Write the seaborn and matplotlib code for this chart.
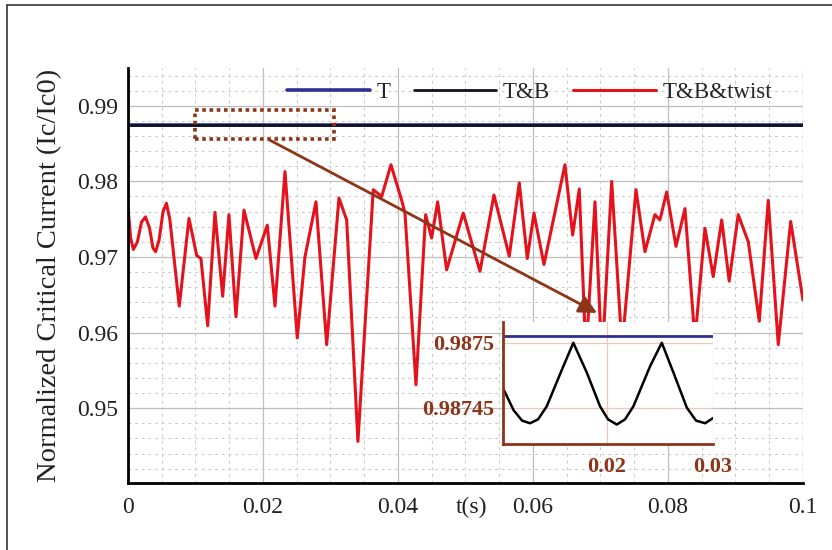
import matplotlib
matplotlib.use('Agg')
import matplotlib.pyplot as plt
from matplotlib.patches import Rectangle
from matplotlib.lines import Line2D
from matplotlib.ticker import MultipleLocator
import pandas as pd
import seaborn as sns

# ---- data ----
t_twist = [0.0, 0.0004, 0.0008, 0.0014, 0.002, 0.0026, 0.0032, 0.0037, 0.0041, 0.0046,
           0.0052, 0.0057, 0.0062, 0.0076, 0.00904, 0.01018, 0.01081,
           0.01181, 0.01289, 0.01403, 0.01496, 0.016, 0.01719, 0.01896, 0.02064, 0.02178,
           0.02326, 0.02508, 0.02622, 0.02785, 0.02944, 0.03126, 0.0324, 0.03407, 0.03634,
           0.03759, 0.03896, 0.04055, 0.04104, 0.04267, 0.0441, 0.04499, 0.04588, 0.04721,
           0.04967, 0.05215, 0.05422, 0.05649, 0.05797, 0.05916, 0.06015, 0.06163, 0.06474,
           0.06588, 0.06686, 0.06785, 0.06919, 0.07022, 0.07166, 0.07319, 0.07526, 0.07659,
           0.07807, 0.07881, 0.07981, 0.08119, 0.08252, 0.084, 0.08548, 0.08671, 0.08796,
           0.08907, 0.09041, 0.0919, 0.09353, 0.09486, 0.09634, 0.09818, 0.1]
ic_twist = [0.9766, 0.9725, 0.9710, 0.9720, 0.9746, 0.9753, 0.9738, 0.9712, 0.9707, 0.9722,
            0.9760, 0.9771, 0.9750, 0.9635, 0.9751, 0.9702, 0.9698,
            0.9609, 0.9759, 0.9648, 0.9756, 0.9621, 0.9762, 0.9698, 0.9742, 0.9635,
            0.9813, 0.9593, 0.9700, 0.9773, 0.9584, 0.9778, 0.9749, 0.9456, 0.9789,
            0.9780, 0.9822, 0.9775, 0.9758, 0.9531, 0.9756, 0.9725, 0.9773, 0.9683,
            0.9758, 0.9681, 0.9782, 0.9701, 0.9798, 0.9698, 0.9758, 0.9690, 0.9822,
            0.9729, 0.9790, 0.9570, 0.9773, 0.9560, 0.9800, 0.9580, 0.9789, 0.9707,
            0.9756, 0.9749, 0.9786, 0.9714, 0.9764, 0.9590, 0.9738, 0.9674, 0.9749,
            0.9668, 0.9756, 0.9720, 0.9615, 0.9775, 0.9584, 0.9747, 0.9643]

t_flat = [0.0, 0.1]
ic_T = [0.98751, 0.98751]
ic_TB = [0.98747, 0.98747]

# zoomed window (inset)
t_zoom = [0.0102, 0.0112, 0.0120, 0.01275, 0.0135, 0.01432, 0.01589, 0.01683, 0.0181,
          0.01935, 0.0201, 0.02093, 0.0217, 0.02249, 0.02407, 0.02517, 0.02627, 0.02753,
          0.0284, 0.02926, 0.0300]
ic_zoom_TB = [0.987465, 0.987448, 0.987440, 0.987438, 0.987441, 0.987451, 0.987482,
              0.987500, 0.987477, 0.987451, 0.987441, 0.987437, 0.987441, 0.987451,
              0.987482, 0.987500, 0.987477, 0.987450, 0.987440, 0.987438, 0.987442]
t_zoom_T = [0.0102, 0.0300]
ic_zoom_T = [0.987505, 0.987505]

x_ticks = [0.0, 0.02, 0.04, 0.06, 0.08, 0.1]
x_ticklabels = ['0', '0.02', '0.04', '0.06', '0.08', '0.1']
y_ticks = [0.95, 0.96, 0.97, 0.98, 0.99]
y_ticklabels = ['0.95', '0.96', '0.97', '0.98', '0.99']
zoom_x_ticks = [0.02, 0.03]
zoom_x_labels = ['0.02', '0.03']
zoom_y_ticks = [0.98745, 0.9875]
zoom_y_labels = ['0.98745', '0.9875']

RED = '#E5121B'
BLUE = '#2E3192'
BROWN = '#8E3418'

sns.set_theme(style='white')
plt.rcParams['font.family'] = ['Liberation Serif', 'DejaVu Serif']

fig = plt.figure(figsize=(8.32, 5.5), dpi=100)
fig.patch.set_facecolor('white')
ax = fig.add_axes([0.1538, 0.1218, 0.8113, 0.7546])

df_twist = pd.DataFrame({'t': t_twist, 'Ic': ic_twist})
df_T = pd.DataFrame({'t': t_flat, 'Ic': ic_T})
df_TB = pd.DataFrame({'t': t_flat, 'Ic': ic_TB})

sns.lineplot(data=df_T, x='t', y='Ic', ax=ax, color=BLUE, lw=2.6, label='T',
             sort=False, estimator=None)
sns.lineplot(data=df_TB, x='t', y='Ic', ax=ax, color='#111122', lw=2.0, label='T&B',
             sort=False, estimator=None)
sns.lineplot(data=df_twist, x='t', y='Ic', ax=ax, color=RED, lw=2.2, label='T&B&twist',
             sort=False, estimator=None, solid_joinstyle='round')

ax.set_xlim(0, 0.1)
ax.set_ylim(0.9401, 0.995)
ax.set_xticks(x_ticks)
ax.set_xticklabels(x_ticklabels)
ax.set_yticks(y_ticks)
ax.set_yticklabels(y_ticklabels)
ax.xaxis.set_minor_locator(MultipleLocator(0.005))
ax.yaxis.set_minor_locator(MultipleLocator(0.002))
ax.grid(which='major', color='#BEBEBE', lw=0.9)
ax.grid(which='minor', color='#CACACA', lw=0.8, ls=(0, (2.5, 3.5)))
ax.set_axisbelow(True)
ax.tick_params(which='major', direction='in', length=5, width=1.5, color='black',
               labelsize=17, labelcolor='#222222')
ax.tick_params(axis='x', pad=10)
ax.tick_params(axis='y', pad=7)
ax.tick_params(which='minor', length=0)
for s in ['top', 'right']:
    ax.spines[s].set_visible(False)
for s in ['left', 'bottom']:
    ax.spines[s].set_color('black')
    ax.spines[s].set_linewidth(2)
ax.set_xlabel('')
ax.set_ylabel('Normalized Critical Current (Ic/Ic0)', fontsize=20.5, color='#222222',
              labelpad=11)

ax.legend(loc='center right', bbox_to_anchor=(0.985, 0.94), ncol=3, frameon=False,
          handlelength=3.6, handletextpad=0.3, columnspacing=1.0, fontsize=16.5)

# dotted zoom box + arrow
ax.add_patch(Rectangle((0.0100, 0.98565), 0.0205, 0.00378, fill=False, ec=BROWN,
                       lw=2.6, ls=(0, (1, 1)), zorder=5))
ax.annotate('', xy=(0.0695, 0.9626), xytext=(0.0210, 0.98546),
            arrowprops=dict(arrowstyle='-|>,head_length=0.9,head_width=0.45',
                            color=BROWN, lw=2, shrinkA=0, shrinkB=0), zorder=6)

fig.text(472 / 832, 1 - 507 / 550, 't(s)', ha='center', va='center', fontsize=17,
         color='#222222')

# inset
ins = fig.add_axes([0.6046, 0.1927, 0.2524, 0.2218])
ins.set_zorder(3)
ins.set_facecolor('white')
df_zT = pd.DataFrame({'t': t_zoom_T, 'Ic': ic_zoom_T})
df_zTB = pd.DataFrame({'t': t_zoom, 'Ic': ic_zoom_TB})
sns.lineplot(data=df_zT, x='t', y='Ic', ax=ins, color=BLUE, lw=2.0, sort=False,
             estimator=None)
sns.lineplot(data=df_zTB, x='t', y='Ic', ax=ins, color='black', lw=1.8, sort=False,
             estimator=None, solid_joinstyle='round')
ins.set_xlim(0.0102, 0.0300)
ins.set_ylim(0.987422, 0.987516)
ins.set_xticks(zoom_x_ticks)
ins.set_xticklabels(zoom_x_labels, fontweight='bold')
ins.set_yticks(zoom_y_ticks)
ins.set_yticklabels(zoom_y_labels, fontweight='bold')
ins.grid(True, color='#F2C6B4', lw=0.9)
ins.tick_params(direction='in', length=4, width=1.2, color=BROWN, labelcolor=BROWN,
                labelsize=16)
ins.tick_params(axis='x', pad=9)
ins.tick_params(axis='y', pad=6)
for s in ['top', 'right']:
    ins.spines[s].set_visible(False)
for s in ['left', 'bottom']:
    ins.spines[s].set_color(BROWN)
    ins.spines[s].set_linewidth(2)
ins.set_xlabel('')
ins.set_ylabel('')

# outer frame of the figure
fig.add_artist(Line2D([7 / 832, 7 / 832], [0, 1 - 5 / 550], transform=fig.transFigure,
                      color='#444444', lw=1.3))
fig.add_artist(Line2D([7 / 832, 1], [1 - 5 / 550, 1 - 5 / 550], transform=fig.transFigure,
                      color='#444444', lw=1.3))

fig.savefig('out.png', dpi=100)
